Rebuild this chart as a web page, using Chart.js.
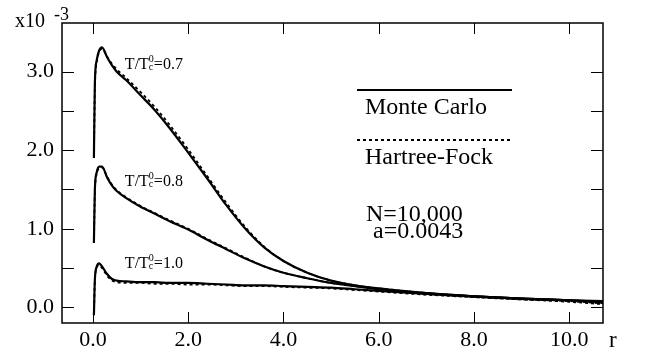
<!DOCTYPE html>
<html>
<head>
<meta charset="utf-8">
<script src="https://cdn.jsdelivr.net/npm/chart.js@4"></script>
<style>
  html, body { margin: 0; padding: 0; background: #fff; }
  #box { width: 647px; height: 356px; }
</style>
</head>
<body>
<div id="box"><canvas id="chart"></canvas></div>
<script>
// radius r, density in units of 1e-3
const radii = [0.02, 0.04, 0.08, 0.13, 0.19, 0.3, 0.4, 0.5, 0.7, 1.0, 1.3, 1.6, 2.0, 2.4, 2.8, 3.2, 3.6, 4.0, 4.5, 5.0, 5.5, 6.0, 6.5, 7.0, 8.0, 9.0, 10.0, 10.71];

const monteCarlo07 = [1.90, 2.85, 3.15, 3.27, 3.31, 3.18, 3.08, 3.00, 2.89, 2.70, 2.51, 2.29, 1.97, 1.64, 1.30, 1.00, 0.76, 0.59, 0.44, 0.34, 0.28, 0.24, 0.21, 0.18, 0.14, 0.11, 0.09, 0.06];
const hartreeFock07 = [1.90, 2.80, 3.12, 3.25, 3.29, 3.19, 3.10, 3.03, 2.92, 2.74, 2.55, 2.33, 2.01, 1.67, 1.33, 1.02, 0.77, 0.59, 0.44, 0.34, 0.28, 0.24, 0.21, 0.18, 0.14, 0.11, 0.08, 0.05];

const monteCarlo08 = [0.82, 1.50, 1.72, 1.79, 1.79, 1.65, 1.55, 1.48, 1.39, 1.28, 1.19, 1.10, 0.99, 0.86, 0.74, 0.62, 0.52, 0.44, 0.37, 0.31, 0.27, 0.23, 0.20, 0.18, 0.14, 0.11, 0.09, 0.07];
const hartreeFock08 = [0.82, 1.46, 1.70, 1.77, 1.78, 1.66, 1.56, 1.49, 1.40, 1.29, 1.20, 1.11, 1.00, 0.87, 0.75, 0.63, 0.52, 0.44, 0.37, 0.31, 0.27, 0.23, 0.20, 0.17, 0.13, 0.10, 0.08, 0.06];

const monteCarlo10 = [-0.10, 0.35, 0.52, 0.56, 0.52, 0.42, 0.36, 0.34, 0.33, 0.32, 0.32, 0.31, 0.31, 0.30, 0.29, 0.28, 0.28, 0.27, 0.26, 0.25, 0.23, 0.21, 0.19, 0.17, 0.14, 0.11, 0.09, 0.08];
const hartreeFock10 = [-0.10, 0.33, 0.50, 0.54, 0.50, 0.40, 0.34, 0.32, 0.31, 0.31, 0.30, 0.30, 0.29, 0.29, 0.28, 0.27, 0.27, 0.26, 0.25, 0.24, 0.22, 0.20, 0.18, 0.16, 0.13, 0.10, 0.07, 0.04];

const xTicks = [0, 2, 4, 6, 8, 10];
const yTicks = [0, 1, 2, 3];
const yMinorTicks = [0, 0.5, 1, 1.5, 2, 2.5, 3];
const temperatures = ["0.7", "0.8", "1.0"];
const legendLabels = ["Monte Carlo", "Hartree-Fock"];
const runInfo = ["N=10,000", "a=0.0043"];

const SERIF = "'Liberation Serif', 'DejaVu Serif', serif";

function points(values)
{
  return radii.map((r, i) => ({x: r, y: values[i]}));
}

function curve(values, dashed)
{
  return {
    data: points(values),
    borderColor: "#000",
    borderWidth: dashed ? 1.8 : 2.2,
    borderDash: dashed ? [3, 3] : [],
    pointRadius: 0,
    cubicInterpolationMode: "monotone",
    fill: false,
  };
}

function drawTemperature(ctx, x, y, value)
{
  ctx.font = "16px " + SERIF;
  ctx.fillText("T/T", x, y);
  const w = ctx.measureText("T/T").width;
  ctx.font = "10px " + SERIF;
  ctx.fillText("0", x + w, y - 7);
  ctx.fillText("c", x + w, y + 1);
  ctx.font = "16px " + SERIF;
  ctx.fillText("=" + value, x + w + 5, y);
}

const framePlugin = {
  id: "frame",
  afterDraw(chart)
  {
    const ctx = chart.ctx;
    const area = chart.chartArea;
    const xs = chart.scales.x;
    const ys = chart.scales.y;
    ctx.save();
    ctx.strokeStyle = "#000";
    ctx.fillStyle = "#000";
    ctx.lineWidth = 1.5;
    ctx.strokeRect(area.left, area.top, area.right - area.left, area.bottom - area.top);

    // inward ticks
    ctx.lineWidth = 1;
    ctx.beginPath();
    for (const v of xTicks)
    {
      const px = Math.round(xs.getPixelForValue(v)) + 0.5;
      ctx.moveTo(px, area.bottom);
      ctx.lineTo(px, area.bottom - 11);
      ctx.moveTo(px, area.top);
      ctx.lineTo(px, area.top + 11);
    }
    for (const v of yMinorTicks)
    {
      const py = Math.round(ys.getPixelForValue(v)) + 0.5;
      ctx.moveTo(area.left, py);
      ctx.lineTo(area.left + 12, py);
      ctx.moveTo(area.right, py);
      ctx.lineTo(area.right - 12, py);
    }
    ctx.stroke();

    // axis extras
    ctx.textBaseline = "alphabetic";
    ctx.textAlign = "left";
    ctx.font = "20px " + SERIF;
    ctx.fillText("x10", 15, 27);
    ctx.font = "18px " + SERIF;
    ctx.fillText("-3", 54, 20);
    ctx.font = "23px " + SERIF;
    ctx.fillText("r", 609, 347);

    // curve labels
    const labelBaselines = [3.03, 1.55, 0.50];
    temperatures.forEach((t, i) =>
    {
      drawTemperature(ctx, xs.getPixelForValue(0.67), ys.getPixelForValue(labelBaselines[i]), t);
    });

    // legend
    ctx.lineWidth = 2;
    ctx.beginPath();
    ctx.moveTo(357, 90);
    ctx.lineTo(512, 90);
    ctx.stroke();
    ctx.setLineDash([3, 3]);
    ctx.beginPath();
    ctx.moveTo(357, 140);
    ctx.lineTo(512, 140);
    ctx.stroke();
    ctx.setLineDash([]);
    ctx.font = "24px " + SERIF;
    ctx.fillText(legendLabels[0], 365, 114);
    ctx.fillText(legendLabels[1], 365, 164);
    ctx.fillText(runInfo[0], 366, 221);
    ctx.fillText(runInfo[1], 373, 238);
    ctx.restore();
  },
};

const tickFont = {family: SERIF, size: 22};

new Chart(document.getElementById("chart"), {
  type: "line",
  data: {
    datasets: [
      curve(monteCarlo07, false),
      curve(hartreeFock07, true),
      curve(monteCarlo08, false),
      curve(hartreeFock08, true),
      curve(monteCarlo10, false),
      curve(hartreeFock10, true),
    ],
  },
  options: {
    responsive: true,
    maintainAspectRatio: false,
    animation: false,
    devicePixelRatio: 1,
    layout: {padding: {top: 23, right: 44, left: 0, bottom: 0}},
    plugins: {legend: {display: false}, tooltip: {enabled: false}},
    scales: {
      x: {
        type: "linear",
        min: -0.65,
        max: 10.71,
        grid: {display: false, drawTicks: false},
        border: {display: false},
        afterBuildTicks: scale => { scale.ticks = xTicks.map(value => ({value})); },
        afterFit: scale => { scale.height = 33; },
        ticks: {
          color: "#000",
          font: tickFont,
          padding: 4,
          maxRotation: 0,
          callback: value => value.toFixed(1),
        },
      },
      y: {
        type: "linear",
        min: -0.2,
        max: 3.62,
        grid: {display: false, drawTicks: false},
        border: {display: false},
        afterBuildTicks: scale => { scale.ticks = yTicks.map(value => ({value})); },
        afterFit: scale => { scale.width = 62; },
        ticks: {
          color: "#000",
          font: tickFont,
          padding: 8,
          callback: value => value.toFixed(1),
        },
      },
    },
  },
  plugins: [framePlugin],
});
</script>
</body>
</html>
